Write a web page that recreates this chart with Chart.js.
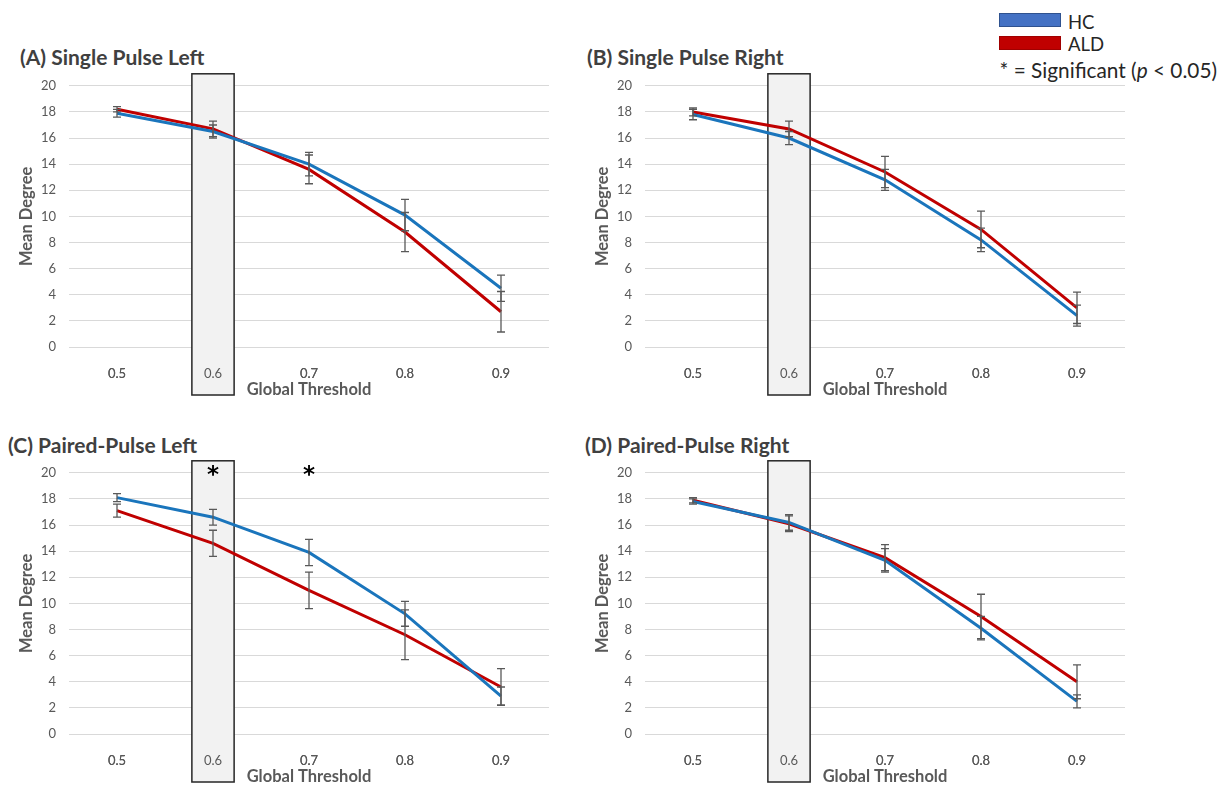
<!DOCTYPE html>
<html>
<head>
<meta charset="utf-8">
<script src="https://cdn.jsdelivr.net/npm/chart.js@4.4.0/dist/chart.umd.min.js"></script>
<style>
  body { margin: 0; background: #fff; width: 1227px; height: 785px; position: relative; overflow: hidden; font-family: Lato, "Open Sans", sans-serif; }
  .panel { position: absolute; width: 560px; height: 335px; }
  .ptitle { position: absolute; font-weight: bold; font-size: 21px; line-height: 22px; color: #404040; white-space: nowrap; }
  .lbox { position: absolute; left: 999px; width: 60px; height: 12px; }
  .ltext { position: absolute; font-size: 18.5px; line-height: 20px; color: #262626; white-space: nowrap; }
</style>
</head>
<body>
<div class="ptitle" style="left:20px; top:46px;">(A) Single Pulse Left</div>
<div class="ptitle" style="left:587px; top:46px;">(B) Single Pulse Right</div>
<div class="ptitle" style="left:8px; top:434px;">(C) Paired-Pulse Left</div>
<div class="ptitle" style="left:585px; top:434px;">(D) Paired-Pulse Right</div>

<div class="lbox" style="top:13px; background:#4472c4; border:1px solid #2f528f;"></div>
<div class="lbox" style="top:36px; background:#c00000; border:1px solid #a00000;"></div>
<div class="ltext" style="left:1068px; top:12px;">HC</div>
<div class="ltext" style="left:1068px; top:34px;">ALD</div>
<div class="ltext" style="right:10px; top:59px; font-size:20.8px; line-height:22px;">* = Significant (<i>p</i> &lt; 0.05)</div>

<div class="panel" style="left:0px; top:65px;"><canvas id="chartA"></canvas></div>
<div class="panel" style="left:576px; top:65px;"><canvas id="chartB"></canvas></div>
<div class="panel" style="left:0px; top:452px;"><canvas id="chartC"></canvas></div>
<div class="panel" style="left:576px; top:452px;"><canvas id="chartD"></canvas></div>

<script>
// categories and axis
const thresholds = ['0.5', '0.6', '0.7', '0.8', '0.9'];
const yMin = 0, yMax = 20, yStep = 2;
const highlight = '0.6';

// (A) Single Pulse Left
const hcA = [17.9, 16.5, 14.0, 10.1, 4.5];
const hcErrA = [0.3, 0.5, 0.9, 1.2, 1.0];
const aldA = [18.2, 16.7, 13.6, 8.8, 2.7];
const aldErrA = [0.2, 0.6, 1.1, 1.5, 1.55];
const sigA = [];

// (B) Single Pulse Right
const hcB = [17.8, 16.0, 12.8, 8.2, 2.4];
const hcErrB = [0.4, 0.5, 0.8, 0.9, 0.8];
const aldB = [18.0, 16.7, 13.4, 9.0, 3.0];
const aldErrB = [0.3, 0.6, 1.2, 1.4, 1.2];
const sigB = [];

// (C) Paired-Pulse Left
const hcC = [18.1, 16.6, 13.9, 9.2, 2.9];
const hcErrC = [0.3, 0.6, 1.0, 0.95, 0.7];
const aldC = [17.1, 14.6, 11.0, 7.6, 3.6];
const aldErrC = [0.5, 1.0, 1.4, 1.9, 1.4];
const sigC = ['0.6', '0.7'];

// (D) Paired-Pulse Right
const hcD = [17.8, 16.2, 13.3, 8.1, 2.5];
const hcErrD = [0.2, 0.6, 0.9, 0.9, 0.5];
const aldD = [17.9, 16.1, 13.5, 9.0, 4.0];
const aldErrD = [0.2, 0.6, 1.0, 1.7, 1.3];
const sigD = [];

const gray = '#595959';

const panelExtras = {
    id: 'panelExtras',
    beforeDatasetsDraw(chart) {
        // shaded box behind the highlighted threshold
        const { ctx, chartArea } = chart;
        const x = chart.scales.x, y = chart.scales.y;
        const step = x.getPixelForValue(1) - x.getPixelForValue(0);
        const cx = x.getPixelForValue(thresholds.indexOf(highlight));
        const left = cx - step * 0.22, right = cx + step * 0.22;
        const top = y.getPixelForValue(yMax) - step * 0.125;
        const bottom = chartArea.bottom + step * 0.5;
        ctx.save();
        ctx.fillStyle = '#f2f2f2';
        ctx.fillRect(left, top, right - left, bottom - top);
        ctx.strokeStyle = '#262626';
        ctx.lineWidth = 1.5;
        ctx.strokeRect(left, top, right - left, bottom - top);
        ctx.restore();
        // put the tick labels back on top of the box
        x.drawLabels(chartArea);
    },
    afterDatasetsDraw(chart, args, opts) {
        const { ctx } = chart;
        const x = chart.scales.x, y = chart.scales.y;
        ctx.save();
        ctx.strokeStyle = gray;
        ctx.lineWidth = 1.3;
        chart.data.datasets.forEach(ds => {
            ds.data.forEach((v, i) => {
                const e = ds.errors[i];
                const px = x.getPixelForValue(i);
                const y1 = y.getPixelForValue(v + e), y2 = y.getPixelForValue(v - e);
                ctx.beginPath();
                ctx.moveTo(px, y1); ctx.lineTo(px, y2);
                ctx.moveTo(px - 4, y1); ctx.lineTo(px + 4, y1);
                ctx.moveTo(px - 4, y2); ctx.lineTo(px + 4, y2);
                ctx.stroke();
            });
        });
        // significance stars
        ctx.fillStyle = '#000';
        ctx.font = 'bold 23px "DejaVu Sans", sans-serif';
        ctx.textAlign = 'center';
        ctx.textBaseline = 'middle';
        (opts.sig || []).forEach(t => {
            ctx.fillText('*', x.getPixelForValue(thresholds.indexOf(t)), y.getPixelForValue(yMax) + 3);
        });
        ctx.restore();
    }
};

function makeChart(id, hc, hcErr, ald, aldErr, sig) {
    return new Chart(document.getElementById(id), {
        type: 'line',
        data: {
            labels: thresholds,
            datasets: [
                { label: 'HC', data: hc, errors: hcErr, borderColor: '#1a75bc', borderWidth: 3, pointRadius: 0, tension: 0 },
                { label: 'ALD', data: ald, errors: aldErr, borderColor: '#c00000', borderWidth: 3, pointRadius: 0, tension: 0 }
            ]
        },
        options: {
            responsive: true,
            maintainAspectRatio: false,
            animation: false,
            layout: { padding: { left: 10, right: 11, top: 12, bottom: 0 } },
            plugins: {
                legend: { display: false },
                tooltip: { enabled: false },
                panelExtras: { sig: sig }
            },
            scales: {
                x: {
                    offset: true,
                    grid: { display: false },
                    border: { display: false },
                    ticks: { color: gray, font: { family: 'Lato', size: 13 }, padding: 11 },
                    title: { display: true, text: 'Global Threshold', color: gray, font: { family: 'Lato', size: 16.5, weight: 'bold' }, padding: { top: 0, bottom: 0 } },
                    afterFit: s => { s.height = 53; }
                },
                y: {
                    min: yMin, max: yMax,
                    grid: { color: '#d9d9d9', lineWidth: 1, drawTicks: false },
                    border: { display: false },
                    ticks: { stepSize: yStep, color: gray, font: { family: 'Lato', size: 13 }, padding: 13 },
                    title: { display: true, text: 'Mean Degree', color: gray, font: { family: 'Lato', size: 16.5, weight: 'bold' }, padding: { top: 7, bottom: 0 } },
                    afterFit: s => { s.width = 59; }
                }
            }
        },
        plugins: [panelExtras]
    });
}

makeChart('chartA', hcA, hcErrA, aldA, aldErrA, sigA);
makeChart('chartB', hcB, hcErrB, aldB, aldErrB, sigB);
makeChart('chartC', hcC, hcErrC, aldC, aldErrC, sigC);
makeChart('chartD', hcD, hcErrD, aldD, aldErrD, sigD);
</script>
</body>
</html>
